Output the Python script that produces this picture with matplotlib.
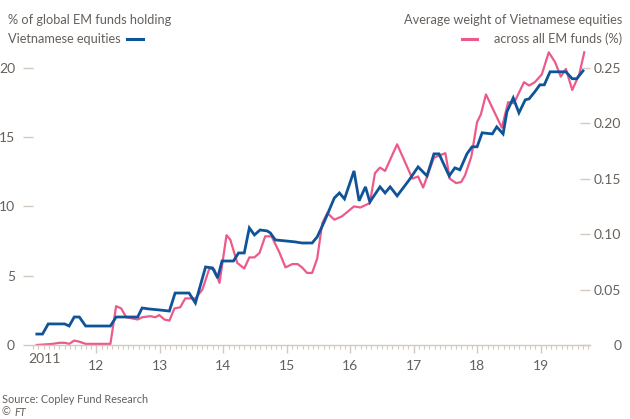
import numpy as np
import matplotlib
matplotlib.use('Agg')
from matplotlib import pyplot as plt
from matplotlib.ticker import MultipleLocator, FixedLocator

# % of global EM funds holding Vietnamese equities (left axis)
holding_years = [2011.06, 2011.15, 2011.24, 2011.50, 2011.57, 2011.65, 2011.73, 2011.83, 2012.22, 2012.31,
                 2012.65, 2012.72, 2012.83, 2012.99, 2013.15, 2013.24, 2013.46, 2013.56, 2013.72, 2013.83,
                 2013.91, 2013.98, 2014.16, 2014.24, 2014.33, 2014.41, 2014.49, 2014.58, 2014.69, 2014.74,
                 2014.82, 2014.98, 2015.13, 2015.24, 2015.40, 2015.48, 2015.59, 2015.75, 2015.83, 2015.91,
                 2016.06, 2016.14, 2016.24, 2016.31, 2016.47, 2016.55, 2016.63, 2016.74, 2016.93, 2017.07,
                 2017.21, 2017.32, 2017.40, 2017.56, 2017.65, 2017.73, 2017.84, 2017.92, 2018.00, 2018.08,
                 2018.24, 2018.31, 2018.41, 2018.47, 2018.57, 2018.66, 2018.76, 2018.82, 2018.91, 2018.99,
                 2019.06, 2019.15, 2019.31, 2019.40, 2019.50, 2019.57, 2019.67]
holding_pct = [0.79, 0.79, 1.52, 1.52, 1.37, 2.02, 2.02, 1.37, 1.37, 2.02,
               2.02, 2.67, 2.60, 2.53, 2.45, 3.75, 3.75, 3.03, 5.63, 5.56,
               4.84, 6.06, 6.06, 6.64, 6.64, 8.45, 7.94, 8.30, 8.23, 8.09,
               7.58, 7.51, 7.44, 7.36, 7.36, 7.80, 8.88, 10.61, 10.97, 10.54,
               12.56, 10.40, 11.41, 10.32, 11.41, 10.97, 11.41, 10.76, 11.91, 12.85,
               12.20, 13.79, 13.79, 12.20, 12.78, 12.64, 13.79, 14.30, 14.30, 15.31,
               15.23, 15.74, 15.23, 16.82, 17.83, 16.75, 17.69, 17.76, 18.27, 18.77,
               18.77, 19.71, 19.71, 19.71, 19.21, 19.21, 19.78]

# Average weight of Vietnamese equities across all EM funds, % (right axis)
weight_years = [2011.06, 2011.31, 2011.42, 2011.50, 2011.57, 2011.65, 2011.73, 2011.83, 2012.22, 2012.31,
                2012.39, 2012.47, 2012.65, 2012.72, 2012.85, 2012.93, 2012.99, 2013.07, 2013.15, 2013.23,
                2013.32, 2013.40, 2013.56, 2013.67, 2013.78, 2013.86, 2013.94, 2014.05, 2014.11, 2014.22,
                2014.33, 2014.41, 2014.49, 2014.57, 2014.66, 2014.76, 2014.88, 2014.98, 2015.09, 2015.17,
                2015.24, 2015.32, 2015.40, 2015.48, 2015.56, 2015.64, 2015.75, 2015.87, 2016.06, 2016.16,
                2016.31, 2016.39, 2016.47, 2016.55, 2016.74, 2016.98, 2017.07, 2017.15, 2017.32, 2017.50,
                2017.57, 2017.67, 2017.75, 2017.81, 2017.91, 2018.00, 2018.06, 2018.14, 2018.24, 2018.39,
                2018.49, 2018.58, 2018.74, 2018.82, 2018.91, 2019.02, 2019.13, 2019.23, 2019.32, 2019.40,
                2019.50, 2019.61, 2019.69]
weight_pct = [0.000, 0.001, 0.002, 0.002, 0.001, 0.004, 0.003, 0.001, 0.001, 0.035,
              0.033, 0.025, 0.023, 0.025, 0.026, 0.025, 0.027, 0.023, 0.022, 0.033,
              0.034, 0.042, 0.042, 0.050, 0.069, 0.068, 0.056, 0.099, 0.095, 0.074,
              0.069, 0.079, 0.079, 0.083, 0.098, 0.098, 0.084, 0.070, 0.073, 0.073,
              0.070, 0.065, 0.065, 0.078, 0.110, 0.119, 0.113, 0.116, 0.125, 0.124,
              0.128, 0.155, 0.160, 0.157, 0.181, 0.150, 0.152, 0.142, 0.169, 0.173,
              0.150, 0.146, 0.147, 0.153, 0.170, 0.201, 0.208, 0.226, 0.214, 0.196,
              0.219, 0.218, 0.237, 0.234, 0.237, 0.244, 0.264, 0.255, 0.242, 0.249,
              0.230, 0.244, 0.264]

year_ticks = [2012, 2013, 2014, 2015, 2016, 2017, 2018, 2019]
year_labels = ['12', '13', '14', '15', '16', '17', '18', '19']
left_ticks = [0, 5, 10, 15, 20]
right_ticks = [0, 0.05, 0.10, 0.15, 0.20, 0.25]
right_labels = ['0', '0.05', '0.10', '0.15', '0.20', '0.25']

BLUE = '#0f5499'
PINK = '#ec5a8c'
GREY = '#66605c'
TAN = '#d4c9bf'

plt.rcParams['font.family'] = ['Lato', 'DejaVu Sans']

fig = plt.figure(figsize=(6.3, 4.19), dpi=100)
ax = fig.add_axes([33 / 630, 1 - 345 / 419, (590 - 33) / 630, (345 - 47) / 419])
ax2 = ax.twinx()

ax.plot(holding_years, holding_pct, color=BLUE, lw=2.0, solid_joinstyle='miter', zorder=3)
ax2.plot(weight_years, weight_pct, color=PINK, lw=1.6, zorder=2)
ax.set_zorder(ax2.get_zorder() + 1)
ax.patch.set_visible(False)

left_top = 21.5
ax.set_ylim(0, left_top)
ax2.set_ylim(0, left_top * 0.0125)
ax.set_xlim(2011.0, 2019.78)

for a in (ax, ax2):
    for s in ('top', 'left', 'right'):
        a.spines[s].set_visible(False)
ax2.spines['bottom'].set_visible(False)
ax.spines['bottom'].set_color(TAN)
ax.spines['bottom'].set_linewidth(1.0)

ax.xaxis.set_major_locator(FixedLocator(year_ticks))
ax.set_xticklabels(year_labels)
ax.xaxis.set_minor_locator(MultipleLocator(1 / 12))
ax.tick_params(axis='x', which='major', length=6, width=1, color=TAN, labelsize=10,
               labelcolor=GREY, pad=5)
ax.tick_params(axis='x', which='minor', length=3, width=0.8, color=TAN)
ax.text(2011.18, -0.0265, '2011', transform=ax.get_xaxis_transform(), ha='center', va='top',
        fontsize=10, color=GREY)

ax.set_yticks(left_ticks)
ax.set_yticklabels([str(v) for v in left_ticks])
ax.tick_params(axis='y', length=7, width=1, color=TAN, labelsize=10, labelcolor=GREY, pad=6)

ax2.set_yticks(right_ticks)
ax2.set_yticklabels(right_labels)
ax2.tick_params(axis='y', direction='in', length=7, width=1, color=TAN, labelsize=10,
                labelcolor=GREY, pad=22.5)
for lab in ax2.get_yticklabels():
    lab.set_horizontalalignment('right')

# legend-style headers
fs = 9.2
fig.text(8 / 630, 1 - 20 / 419, '% of global EM funds holding', fontsize=fs, color=GREY, va='center')
fig.text(8 / 630, 1 - 39 / 419, 'Vietnamese equities', fontsize=fs, color=GREY, va='center')
fig.add_artist(plt.Line2D([127 / 630, 143 / 630], [1 - 39 / 419] * 2, color=BLUE, lw=2.2))

fig.text(622 / 630, 1 - 20 / 419, 'Average weight of Vietnamese equities', fontsize=fs, color=GREY,
         va='center', ha='right')
fig.text(622 / 630, 1 - 39 / 419, 'across all EM funds (%)', fontsize=fs, color=GREY,
         va='center', ha='right')
fig.add_artist(plt.Line2D([462 / 630, 477 / 630], [1 - 39 / 419] * 2, color=PINK, lw=2.2))

fig.text(2 / 630, 1 - 399 / 419, 'Source: Copley Fund Research', fontsize=7.8, color=GREY, va='center')
fig.text(2 / 630, 1 - 412 / 419, '©', fontsize=7.8, color=GREY, va='center')
fig.text(14 / 630, 1 - 412 / 419, 'FT', fontsize=7.8, color=GREY, va='center', style='italic')

fig.savefig('out.png', dpi=100, facecolor='white')
